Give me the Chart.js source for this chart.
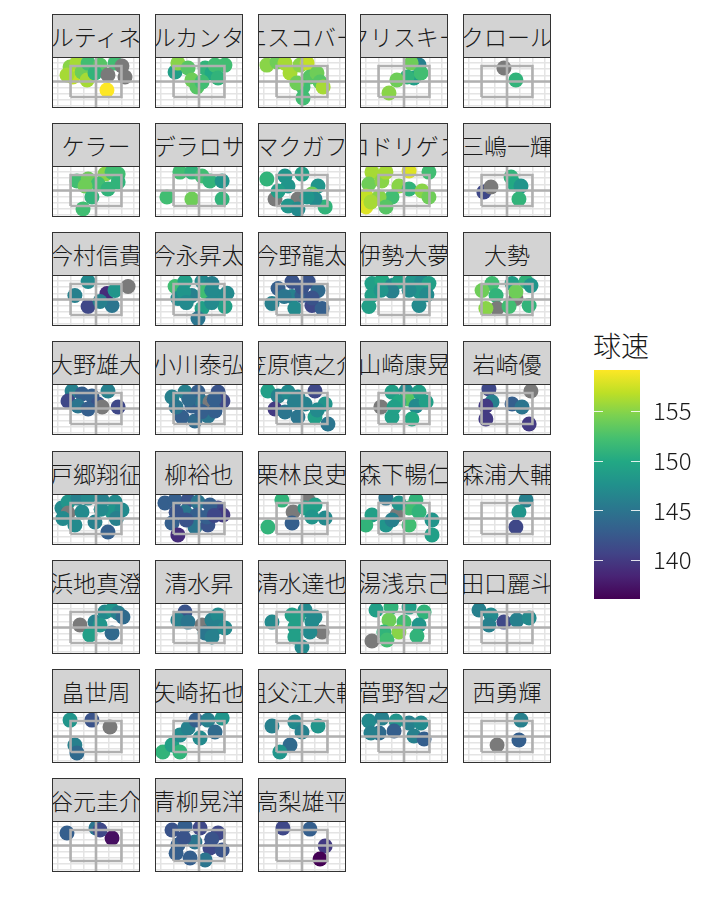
<!DOCTYPE html>
<html>
<head>
<meta charset="utf-8">
<script src="https://cdn.jsdelivr.net/npm/chart.js@4.4.0/dist/chart.umd.min.js"></script>
<style>
  body { margin:0; background:#fff; width:720px; height:921px; position:relative; overflow:hidden;
         font-family:"Noto Sans CJK JP","Noto Sans",sans-serif; }
  .facet { position:absolute; width:88px; height:94px; }
  .strip { position:absolute; left:0; top:0; width:88px; height:44px; box-sizing:border-box;
           border:1px solid #333; background:#d3d3d3; overflow:hidden;
           display:flex; justify-content:center; align-items:center; }
  .strip span { flex-shrink:0; white-space:nowrap; font-size:23px; color:#1a1a1a; line-height:44px; font-weight:300; }
  .panel { position:absolute; left:0; top:43px; width:88px; height:51px; box-sizing:border-box;
           border:1px solid #333; background:#fff; }
  .panel canvas { display:block; }
  #legendTitle { position:absolute; left:593px; top:330px; font-size:28px; line-height:30px; color:#1a1a1a; font-weight:300; }
  #legend { position:absolute; left:594px; top:350px; }
</style>
</head>
<body>
<div id="legendTitle">球速</div>
<div id="legend"><canvas id="colorbar" width="110" height="270"></canvas></div>
<script>
// pitchers in facet order
const pitchers = ['マルティネス','アルカンタラ','エスコバー','クリスキー','クロール',
  'ケラー','デラロサ','マクガフ','ロドリゲス','三嶋一輝',
  '今村信貴','今永昇太','今野龍太','伊勢大夢','大勢',
  '大野雄大','小川泰弘','笠原慎之介','山崎康晃','岩崎優',
  '戸郷翔征','柳裕也','栗林良吏','森下暢仁','森浦大輔',
  '浜地真澄','清水昇','清水達也','湯浅京己','田口麗斗',
  '畠世周','矢崎拓也','祖父江大輔','菅野智之','西勇輝',
  '谷元圭介','青柳晃洋','高梨雄平'];

// horizontal location (zone edges at -1 / 1)
const plateX = [
  [-1.02,-0.75,-0.91,-1.14,-0.55,-0.35,-0.31,0.16,-0.04,0.75,0.47,1.02,1.14,0.43],
  [-0.94,-0.83,-0.43,-0.28,-0.08,0.24,0.51,0.63,1.02,0.75,0.12],
  [-1.38,-0.98,-0.67,-0.47,-0.08,0.2,0.31,0.59,0.71,0.04,-0.2,0.04,0.83],
  [0.59,0.28,0.39,0.12,-0.28,-0.59,0.67],
  [-0.12,0.35],
  [-0.75,-0.31,0.35,0.63,0.87,0.08,-0.43,0.47,-0.16,-0.51,0.87],
  [-0.75,-0.28,0.12,0.43,0.91,0.91,-1.26,-0.28],
  [-1.38,-0.67,0,-0.55,-1.06,-0.16,-0.55,-0.16,0.63,0.39,0.91,0.51,-0.94,0.2],
  [-1.26,-1.38,-1.5,-1.5,-0.87,-0.71,0.2,0.98,-0.2,-0.47,0.2,0.71,0.98,-0.98,-0.71,-1.3],
  [-0.91,-0.63,0.16,0.28,0.55,0.47],
  [-0.31,-0.83,-0.31,0.43,0.63,0.75,1.26,0.16],
  [-0.94,-0.55,0.12,0.51,-0.83,-0.28,0.24,0.75,1.02,0.12,-0.04,-0.6,0.5,0.5,-0.5,1.1],
  [-0.39,0.24,-0.94,-1.18,-0.39,0,0.63,0.39,0.79,-0.28,0,-0.7,0.4],
  [-1.26,-0.87,-0.47,-0.2,0.31,0.71,0.98,-1.26,-1.38,-0.47,0.59,0.59,-0.9,0.2,0.9],
  [-0.59,-0.98,-0.43,0.2,0.75,0.94,0.35,-0.39,-0.83,0.08,0.87,0.35],
  [-0.94,-1.1,-0.55,-0.71,-0.16,0.47,0.08,0.24,0.87,-0.31],
  [-1.06,-0.55,-0.04,0.75,0.94,-0.28,0.12,0.43,-0.67,-0.16,0.35,0.63,-0.9,0.6,-0.4,0.1],
  [-1.34,-0.94,-1.06,-0.55,-0.16,0.51,0.12,0.91,-0.67,-0.16,0.51,1.02,-0.3,0.6],
  [-0.47,0.08,0.59,-0.91,0.12,-0.2,0.47,0.87,-0.47,0.31,-0.39],
  [-0.71,0.94,-0.59,-0.83,0.2,0.59,-0.83,0.87],
  [-1.34,-1.1,-0.71,-0.31,0.24,0.75,-1.1,-0.55,0.63,1.02,0.47,-0.04,-0.83,-1.3,0.2,0.8],
  [-1.34,-0.94,-0.43,-0.04,0.75,0.94,-0.55,-0.08,-1.06,-0.16,0.35,-0.83,0.43,-0.9,0.3,-0.5,0.6],
  [-0.79,0.24,-0.35,0.12,-1.34,-0.39,0.51,0.91,0.39],
  [-0.71,0.47,-1.26,-1.5,-0.71,-0.28,-0.47,0.2,0.59,0.2,1.1,1.1,-0.2],
  [0.75,0.47,0.35],
  [-0.63,-0.04,-0.24,0.35,0.63,0.87,1.06,0.63,0.16],
  [-0.55,-0.83,-0.43,0.12,0.51,0.75,0.75,0.24,0.51,1.02],
  [-1.18,-0.39,0.12,-0.16,0.51,0.39,-0.28,0.79,-0.28,0,0.31],
  [-1.1,-0.51,0.2,0.79,-0.59,0,0.59,-0.2,-0.79,0.51,-1.26,-0.67],
  [-1.1,-0.63,-0.12,0.39,0.87,-0.71],
  [-1.02,-0.16,0.55,-0.83,-0.75],
  [-1.42,-1.06,-0.75,-0.43,-0.12,0.35,0.91,0.63,0.04,-0.75],
  [-1.18,-0.28,0.63,0,-0.47,-0.87],
  [-1.38,-0.87,-0.31,0.2,0.67,-0.98,-0.39,0.39,0.79,-1.3],
  [0.55,-0.39,0.47],
  [-1.14,0,0.63,0.16],
  [-1.06,-0.55,0.04,0.75,-0.83,-0.16,0.43,0.91,-0.35,0.24,-0.6,0.5,-0.9],
  [-0.75,0.31,0.91,0.71]
];

// height (zone from 1.5 to 3.5)
const plateZ = [
  [3.44,3.69,2.79,2.92,3.11,2.6,3.69,3.56,3.05,3.69,2.92,3.5,2.79,1.95],
  [3.11,3.69,3.37,2.6,2.15,3.37,3.05,3.56,3.56,2.73,2.47],
  [3.56,3.76,3.69,3.05,3.56,3.69,2.79,3.05,2.47,2.15,2.4,1.44,2.15],
  [3.56,3.69,2.73,2.79,2.6,1.76,3.05],
  [3.37,2.6],
  [3.11,3.24,3.56,3.69,3.56,2.92,2.79,2.6,2.08,1.31,3.05],
  [3.69,3.69,3.44,3.11,3.11,1.95,2.08,1.95],
  [3.24,3.44,3.56,2.79,1.95,1.95,1.5,1.31,2.79,2.27,1.44,1.95,2.47,2.08],
  [3.69,2.92,2.15,1.44,3.11,3.69,3.76,3.69,2.79,2.08,2.6,2.47,2.08,2.08,1.44,1.76],
  [2.4,2.73,3.37,2.92,2.79,1.95],
  [3.66,2.76,2.05,2.89,2.11,3.08,3.34,2.37],
  [3.34,3.66,3.66,3.53,2.56,2.76,3.02,2.69,2.05,1.92,1.27,3.0,3.1,2.3,2.3,2.9],
  [3.66,3.66,3.21,2.24,2.69,2.76,3.08,2.11,1.92,1.92,3.3,2.7,2.6],
  [3.53,3.73,3.4,3.66,3.66,3.66,3.53,2.76,2.05,3.02,2.11,3.02,3.1,3.1,2.8],
  [3.53,3.08,2.76,3.53,3.66,3.4,2.56,1.92,1.92,2.05,2.11,3.0],
  [3.63,2.98,3.44,2.66,3.31,3.63,2.79,2.6,2.6,2.47],
  [3.24,3.56,3.56,3.56,2.98,2.66,2.92,2.92,1.95,1.69,2.02,2.34,2.6,3.1,3.1,2.3],
  [3.63,3.31,2.47,3.56,3.24,3.63,2.79,2.79,2.27,1.95,1.95,1.5,2.9,2.4],
  [3.56,3.63,3.56,2.6,3.11,2.92,2.66,2.92,1.95,1.82,2.6],
  [3.76,3.63,2.92,2.66,2.79,2.6,1.82,1.5],
  [3.18,3.56,3.82,3.82,3.69,3.56,2.85,2.92,2.92,3.05,1.63,2.27,2.08,2.5,3.1,2.5],
  [3.5,3.69,3.69,3.56,3.18,2.73,2.92,2.73,2.21,1.95,2.08,1.44,3.37,2.9,2.6,2.4,2.7],
  [3.69,3.69,2.92,3.18,1.95,2.21,3.37,2.53,2.6],
  [3.82,3.69,2.73,2.08,2.08,2.73,2.4,3.18,2.92,2.08,2.4,1.44,3.5],
  [3.69,2.92,1.95],
  [2.66,2.85,2.02,3.5,3.63,3.44,3.18,2.15,2.66],
  [3.5,2.98,2.85,2.66,2.98,3.31,2.53,2.15,1.89,2.47],
  [2.85,3.31,3.63,3.18,3.18,2.85,2.53,2.21,1.89,1.24,2.21],
  [3.63,3.82,3.82,3.5,2.98,2.85,2.66,2.21,2.21,1.95,1.63,1.69],
  [3.63,3.31,2.85,2.98,3.11,2.66],
  [3.56,3.56,3.11,1.95,1.44],
  [1.5,1.95,2.6,3.05,3.56,3.56,3.69,2.79,2.4,1.5],
  [3.18,3.44,3.18,2.79,1.95,1.5],
  [3.5,3.69,3.5,3.37,3.37,2.73,2.86,2.53,2.34,2.73],
  [3.56,1.95,2.27],
  [3.31,3.63,2.98,3.5],
  [3.5,3.76,3.63,3.31,2.53,2.73,2.34,2.21,1.69,1.56,3.0,2.9,2.0],
  [3.63,3.56,2.47,1.63]
];

// pitch speed km/h (null = not recorded)
const velo = [
  [155,156,157,156,154,156,152,153,151,152,null,null,null,159.1],
  [149,155,153,154,153,151,150,152,152,151,152],
  [155,154,156,156,155,157,153,154,153,152,154,152,156],
  [146,154,149,151,154,155,152],
  [null,151],
  [152,154,155,152,152,152,154,151,151,152,151],
  [152,151,152,151,148,151,152,154],
  [151,148,149,148,null,null,148,147,148,154,151,147,149,148],
  [156,154,157,158,155,156,158,152,155,152,151,155,154,155,153,156],
  [141,null,151,150,148,151],
  [147,146,141,139,145,148,null,146],
  [152,149,147,146,147,146,152,147,149,149,145,148,147,147,147,147],
  [142,142,143,146,146,143,144,141,143,147,142,145,142],
  [149,150,147,149,148,147,149,149,149,146,147,148,148,147,147],
  [152,154,151,149,151,148,null,null,155,152,151,154],
  [146,141,143,145,143,146,142,null,141,143],
  [146,146,143,142,141,143,145,null,143,144,145,143,145,143,144,143],
  [149,146,140,147,146,141,146,148,145,145,149,145,146,147],
  [149,147,149,null,153,150,147,149,149,150,149],
  [141,null,146,140,143,145,140,140],
  [147,148,146,147,146,147,null,147,148,147,143,146,147,147,147,146],
  [143,143,142,145,141,140,145,143,143,145,142,139,143,142,143,142,141],
  [151,null,null,149,151,143,149,147,148],
  [145,151,149,151,148,null,146,152,151,152,148,149,148],
  [146,148,141],
  [null,146,149,147,148,146,144,144,148],
  [142,146,145,null,146,147,146,145,146,147],
  [147,149,147,149,147,147,149,null,149,147,147],
  [149,151,149,151,154,152,148,155,151,151,null,152],
  [146,147,141,146,147,146],
  [148,142,null,146,144],
  [151,149,147,146,143,146,148,144,147,151],
  [146,147,148,146,144,148],
  [147,146,148,146,147,144,143,146,143,146],
  [146,null,143],
  [143,145,137,141],
  [142,143,141,141,143,145,141,142,143,145,142,142,143],
  [141,143,140,136.1]
];

// strike zone outline and split lines
const zoneX = [-1, 1, 1, -1, -1];
const zoneZ = [1.5, 1.5, 3.5, 3.5, 1.5];
const zoneMidX = 0, zoneMidZ = 2.5;
const xLim = [-1.69, 1.69];
const zLim = [0.85, 4.02];
const xGrid = [-1.5, -1, -0.5, 0, 0.5, 1, 1.5];
const zGrid = [0.9, 1.3, 1.7, 2.1, 2.5, 2.9, 3.3, 3.7];
const veloTicks = [140, 145, 150, 155];

const viridis = ['#440154','#482475','#414487','#355f8d','#2a788e','#21918c',
                 '#22a884','#44bf70','#7ad151','#bddf26','#fde725'];
const NA_COL = '#7a7a7a';
const LINE_COL = '#b0b0b0';
const GRID_COL = '#e4e4e4';
const FONT = '"Noto Sans CJK JP","Noto Sans",sans-serif';

const allV = velo.flat().filter(v => v !== null);
const vMin = Math.min(...allV), vMax = Math.max(...allV);

function hex2rgb(h) { return [1,3,5].map(i => parseInt(h.slice(i, i + 2), 16)); }
function colorFor(v) {
  if (v === null) return NA_COL;
  let t = (v - vMin) / (vMax - vMin);
  t = Math.max(0, Math.min(1, t)) * (viridis.length - 1);
  const i = Math.min(Math.floor(t), viridis.length - 2), f = t - i;
  const a = hex2rgb(viridis[i]), b = hex2rgb(viridis[i + 1]);
  const c = a.map((x, k) => Math.round(x + (b[k] - x) * f));
  return `rgb(${c[0]},${c[1]},${c[2]})`;
}

const flatScale = (lim, grid, isX) => ({
  type: 'linear', min: lim[0], max: lim[1],
  afterBuildTicks: s => { s.ticks = grid.map(v => ({ value: v })); },
  afterFit: s => { if (isX) s.height = 0; else s.width = 0; s.paddingTop = s.paddingBottom = s.paddingLeft = s.paddingRight = 0; },
  ticks: { display: false },
  grid: { color: GRID_COL, lineWidth: 1.5, drawTicks: false },
  border: { display: false }
});

const COL_STEP = 102.75, ROW_STEP = 109.14;

pitchers.forEach((name, i) => {
  const col = i % 5, row = Math.floor(i / 5);
  const facet = document.createElement('div');
  facet.className = 'facet';
  facet.style.left = (52 + col * COL_STEP) + 'px';
  facet.style.top = (14 + row * ROW_STEP) + 'px';
  facet.innerHTML = `<div class="strip"><span>${name}</span></div>
    <div class="panel"><canvas width="86" height="49"></canvas></div>`;
  document.body.appendChild(facet);

  const pts = plateX[i].map((x, k) => ({ x, y: plateZ[i][k] }));
  const lineDs = data => ({ data, showLine: true, borderColor: LINE_COL, borderWidth: 2.6,
                            pointRadius: 0, fill: false, order: 0, clip: 0 });
  new Chart(facet.querySelector('canvas'), {
    type: 'scatter',
    data: { datasets: [
      lineDs(zoneX.map((x, k) => ({ x, y: zoneZ[k] }))),
      lineDs([{ x: zoneMidX, y: zLim[0] }, { x: zoneMidX, y: zLim[1] }]),
      lineDs([{ x: xLim[0], y: zoneMidZ }, { x: xLim[1], y: zoneMidZ }]),
      { data: pts, pointRadius: 7.5, pointBorderWidth: 0, pointHoverRadius: 7.5,
        pointBackgroundColor: velo[i].map(colorFor), order: 1, clip: 0 }
    ]},
    options: {
      responsive: false, animation: false, events: [],
      layout: { padding: 0, autoPadding: false },
      plugins: { legend: { display: false }, tooltip: { enabled: false } },
      scales: { x: flatScale(xLim, xGrid, true), y: flatScale(zLim, zGrid, false) }
    }
  });
});

// colour bar legend
const cbTicks = {
  id: 'cbTicks',
  afterDatasetsDraw(chart) {
    const { ctx, chartArea: a, scales: { y } } = chart;
    ctx.save();
    ctx.strokeStyle = 'rgba(255,255,255,0.85)';
    ctx.lineWidth = 1;
    veloTicks.forEach(v => {
      const py = Math.round(y.getPixelForValue(v)) + 0.5;
      ctx.beginPath();
      ctx.moveTo(a.left, py); ctx.lineTo(a.left + 9, py);
      ctx.moveTo(a.right - 9, py); ctx.lineTo(a.right, py);
      ctx.stroke();
    });
    ctx.restore();
  }
};

new Chart(document.getElementById('colorbar'), {
  type: 'bar',
  data: { labels: [''], datasets: [{
    data: [[vMin, vMax]],
    barPercentage: 1, categoryPercentage: 1, borderWidth: 0,
    backgroundColor: ctx => {
      const a = ctx.chart.chartArea;
      if (!a) return viridis[5];
      const g = ctx.chart.ctx.createLinearGradient(0, a.bottom, 0, a.top);
      viridis.forEach((c, k) => g.addColorStop(k / (viridis.length - 1), c));
      return g;
    }
  }]},
  options: {
    responsive: false, animation: false, events: [],
    layout: { padding: { top: 20, bottom: 21, left: 0, right: 0 }, autoPadding: false },
    plugins: { legend: { display: false }, tooltip: { enabled: false } },
    scales: {
      x: { display: false },
      y: {
        position: 'right', min: vMin, max: vMax,
        afterBuildTicks: s => { s.ticks = veloTicks.map(v => ({ value: v })); },
        afterFit: s => { s.width = 64; s.paddingTop = 0; s.paddingBottom = 0; },
        grid: { display: false, drawTicks: false }, border: { display: false },
        ticks: { padding: 13, color: '#1a1a1a', font: { size: 24, family: FONT, weight: 300 } }
      }
    }
  },
  plugins: [cbTicks]
});
</script>
</body>
</html>
